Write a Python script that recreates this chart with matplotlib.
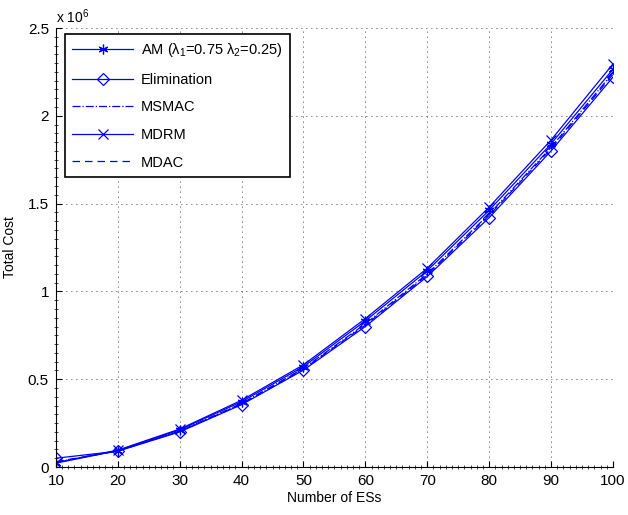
import matplotlib
matplotlib.use("Agg")
import matplotlib.pyplot as plt
from matplotlib.ticker import MultipleLocator, FixedLocator, FuncFormatter

plt.rcParams['font.family'] = ['Liberation Sans', 'DejaVu Sans']
plt.rcParams['mathtext.fontset'] = 'custom'
plt.rcParams['mathtext.rm'] = 'Liberation Sans'
plt.rcParams['mathtext.it'] = 'Liberation Sans'

num_es = [10, 20, 30, 40, 50, 60, 70, 80, 90, 100]
am = [0.022, 0.093, 0.212, 0.372, 0.572, 0.832, 1.118, 1.462, 1.840, 2.265]
elimination = [0.050, 0.090, 0.200, 0.355, 0.552, 0.800, 1.085, 1.420, 1.800, 2.220]
msmac = [0.028, 0.092, 0.205, 0.362, 0.562, 0.815, 1.100, 1.440, 1.820, 2.245]
mdrm = [0.025, 0.096, 0.216, 0.380, 0.582, 0.845, 1.132, 1.480, 1.862, 2.295]
mdac = [0.030, 0.091, 0.203, 0.358, 0.558, 0.808, 1.093, 1.432, 1.812, 2.235]

scale = 1e6
blue = '#0000ff'

fig = plt.figure(figsize=(6.28, 5.15), dpi=100)
ax = fig.add_axes([0.089, 0.0932, 0.887, 0.8524])

ax.plot(num_es, [v * scale for v in am], color=blue, lw=0.9, marker=(6, 2, 0), ms=7, mew=0.9,
        label=r'AM ($\lambda_1$=0.75 $\lambda_2$=0.25)')
ax.plot(num_es, [v * scale for v in elimination], color=blue, lw=0.9, marker='D', ms=6,
        mfc='none', mew=0.9, label='Elimination')
ax.plot(num_es, [v * scale for v in msmac], color=blue, lw=0.9, ls='-.', label='MSMAC')
ax.plot(num_es, [v * scale for v in mdrm], color=blue, lw=0.9, marker='x', ms=7, mew=0.9,
        label='MDRM')
ax.plot(num_es, [v * scale for v in mdac], color=blue, lw=0.9, ls=(0, (6, 4)), label='MDAC')

ax.set_xlim(10, 100)
ax.set_ylim(0, 2.5e6)
ax.xaxis.set_major_locator(FixedLocator(num_es))
ax.yaxis.set_major_locator(MultipleLocator(0.5e6))
ax.xaxis.set_minor_locator(MultipleLocator(1))
ax.yaxis.set_minor_locator(MultipleLocator(0.05e6))
ax.yaxis.set_major_formatter(FuncFormatter(lambda v, p: f'{v / scale:g}'))
ax.text(0.0, 1.005, r'x 10$^{6}$', transform=ax.transAxes, fontsize=10, ha='left', va='bottom')

ax.grid(True, which='major', color='black', ls=(0, (1, 5)), lw=0.6)
for s in ['top', 'right']:
    ax.spines[s].set_visible(False)
for s in ['left', 'bottom']:
    ax.spines[s].set_linewidth(0.8)
ax.tick_params(which='major', direction='in', length=4, labelsize=11, pad=5)
ax.tick_params(which='minor', direction='inout', length=3, width=0.5)

ax.set_xlabel('Number of ESs', fontsize=10, labelpad=2)
ax.set_ylabel('Total Cost', fontsize=10, labelpad=8)

leg = ax.legend(loc='upper left', bbox_to_anchor=(0.003, 1.003), fontsize=10.5,
                fancybox=False, framealpha=1, edgecolor='black', handlelength=4.2,
                labelspacing=0.93, borderpad=0.5, handletextpad=0.5)
leg.get_frame().set_linewidth(1.2)

fig.savefig('out.png', dpi=100)
